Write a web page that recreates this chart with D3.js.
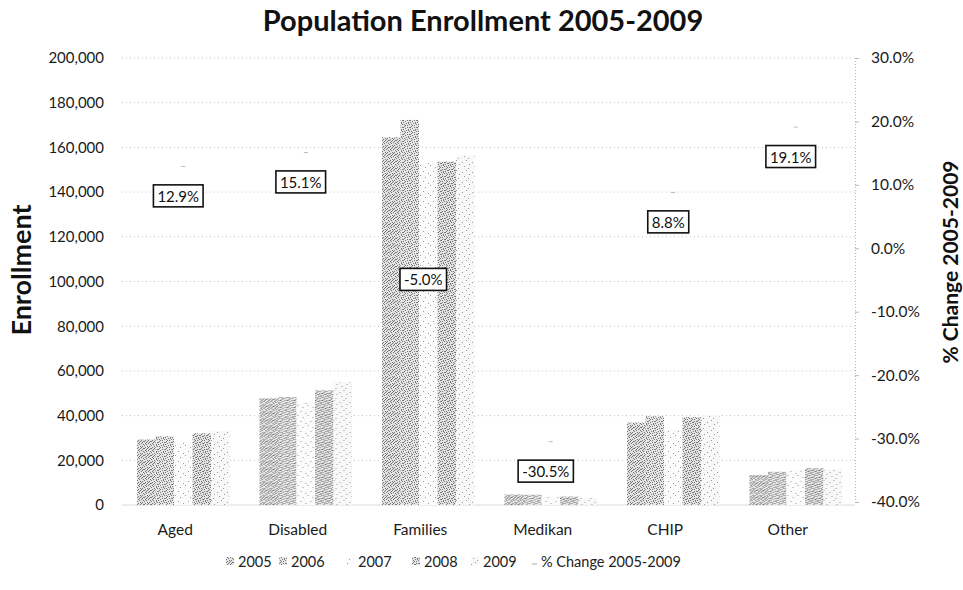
<!DOCTYPE html>
<html>
<head>
<meta charset="utf-8">
<script src="https://cdn.jsdelivr.net/npm/d3@7"></script>
<style>
  body { margin: 0; background: #fff; }
  svg { font-family: Lato, "Open Sans", sans-serif; }
</style>
</head>
<body>
<svg id="chart" width="963" height="590"></svg>
<script>
// data
const categories = ["Aged", "Disabled", "Families", "Medikan", "CHIP", "Other"];
const years = ["2005", "2006", "2007", "2008", "2009"];
const enroll2005 = [29300, 47700, 164600, 4800, 36900, 13400];
const enroll2006 = [30800, 48300, 172300, 4600, 39700, 14900];
const enroll2007 = [28000, 46000, 153000, 3900, 34000, 15300];
const enroll2008 = [32100, 51300, 153600, 3800, 39300, 16500];
const enroll2009 = [33100, 54900, 156400, 3340, 40200, 16000];
const pctChange = [12.9, 15.1, -5.0, -30.5, 8.8, 19.1];
const leftTicks = [0, 20000, 40000, 60000, 80000, 100000, 120000, 140000, 160000, 180000, 200000];
const rightTicks = [-40, -30, -20, -10, 0, 10, 20, 30];

const seriesValues = [enroll2005, enroll2006, enroll2007, enroll2008, enroll2009];

const svg = d3.select("#chart");
const plot = {left: 122, right: 857, top: 58, bottom: 505};
const fmt = d3.formatLocale({decimal: ".", thousands: ",", grouping: [3], currency: ["$", ""], minus: "-"});
const pct = d => fmt.format(".1f")(d) + "%";

// 0. stipple textures standing in for the scanned dither
const defs = svg.append("defs");
function dotPattern(id, size, bg, dots, dotColor) {
    const p = defs.append("pattern")
        .attr("id", id)
        .attr("patternUnits", "userSpaceOnUse")
        .attr("width", size).attr("height", size);
    p.append("rect").attr("width", size).attr("height", size).attr("fill", bg);
    dots.forEach(([dx, dy]) => {
        p.append("rect").attr("x", dx).attr("y", dy).attr("width", 1).attr("height", 1).attr("fill", dotColor);
    });
}
const denseDots = [[0,0],[3,0],[5,1],[1,2],[4,2],[6,3],[2,3],[0,4],[3,5],[5,5],[1,6],[4,6],[6,0],[2,1]];
const denseDotsB = [[1,0],[4,1],[6,1],[2,2],[0,3],[5,3],[3,4],[1,5],[6,5],[4,6],[2,6],[0,1],[5,4]];
const sparseDots = [[1,1],[6,3],[3,7],[8,5]];
const sparseDotsB = [[0,2],[4,0],[7,4],[2,6],[6,8]];
dotPattern("p2005", 7, "#e3e3e3", denseDots, "#767676");
dotPattern("p2006", 7, "#e6e6e6", denseDotsB, "#7a7a7a");
dotPattern("p2007", 10, "#fbfbfb", sparseDots, "#9c9c9c");
dotPattern("p2008", 7, "#e3e3e3", denseDotsB.concat([[3,2]]), "#787878");
dotPattern("p2009", 10, "#f8f8f8", sparseDotsB, "#999");
const fills = years.map(y => `url(#p${y})`);

// 1. scales
const x = d3.scaleBand()
    .domain(categories)
    .range([plot.left, plot.right])
    .paddingInner(0.245)
    .paddingOuter(0.1225);
const xs = d3.scaleBand().domain(years).range([0, x.bandwidth()]);
const y = d3.scaleLinear().domain([0, 200000]).range([plot.bottom, plot.top]);
const yr = d3.scaleLinear().domain([-40, 30]).range([plot.bottom - 3, plot.top]);

// 2. grid
svg.append("g")
    .selectAll("line")
    .data(leftTicks.slice(1))
    .join("line")
      .attr("x1", plot.left).attr("x2", plot.right - 2)
      .attr("y1", d => y(d)).attr("y2", d => y(d))
      .attr("stroke", "#c4c4c4")
      .attr("stroke-width", 1)
      .attr("stroke-dasharray", "1,3");

svg.append("line")
    .attr("x1", plot.left).attr("x2", plot.right - 2)
    .attr("y1", plot.bottom).attr("y2", plot.bottom)
    .attr("stroke", "#dadada");

// 3. axes
const yAxis = svg.append("g")
    .attr("transform", `translate(${plot.left - 18},0)`)
    .call(d3.axisLeft(y).tickValues(leftTicks).tickFormat(fmt.format(",")).tickSize(0).tickPadding(0));
yAxis.select(".domain").remove();
yAxis.selectAll("text").attr("font-size", 15).attr("fill", "#1a1a1a").attr("font-family", "Lato");

const yrAxis = svg.append("g")
    .attr("transform", `translate(${plot.right - 2},0)`)
    .call(d3.axisRight(yr).tickValues(rightTicks).tickFormat(pct).tickSize(4).tickPadding(12));
yrAxis.select(".domain").attr("stroke", "#bbb").attr("stroke-dasharray", "1,2");
yrAxis.selectAll("line").attr("stroke", "#bbb");
yrAxis.selectAll("text").attr("font-size", 15.5).attr("fill", "#1a1a1a").attr("font-family", "Lato");

const xAxis = svg.append("g")
    .attr("transform", `translate(-8,${plot.bottom})`)
    .call(d3.axisBottom(x).tickSize(0).tickPadding(19));
xAxis.select(".domain").remove();
xAxis.selectAll("text").attr("font-size", 15.5).attr("fill", "#1a1a1a").attr("font-family", "Lato");

// 4. bars
const groups = svg.append("g")
    .selectAll("g")
    .data(categories)
    .join("g")
      .attr("transform", d => `translate(${x(d)},0)`);

groups.selectAll("rect")
    .data((c, i) => years.map((yy, k) => ({year: yy, k: k, value: seriesValues[k][i]})))
    .join("rect")
      .attr("x", d => xs(d.year))
      .attr("width", xs.bandwidth())
      .attr("y", d => y(d.value))
      .attr("height", d => y(0) - y(d.value))
      .attr("fill", d => fills[d.k]);

// 5. % change markers and boxed labels
const pts = categories.map((c, i) => ({cat: c, v: pctChange[i]}));
svg.append("g")
    .selectAll("line")
    .data(pts)
    .join("line")
      .attr("x1", d => x(d.cat) + x.bandwidth() / 2 - 2)
      .attr("x2", d => x(d.cat) + x.bandwidth() / 2 + 2)
      .attr("y1", d => yr(d.v)).attr("y2", d => yr(d.v))
      .attr("stroke", "#bbb").attr("stroke-width", 1);

const labelDy = d => d.cat === "Families" ? 0 : 30;
const labels = svg.append("g")
    .selectAll("g")
    .data(pts)
    .join("g")
      .attr("transform", d => `translate(${x(d.cat) + x.bandwidth() / 2 - 5},${yr(d.v) + labelDy(d)})`);
labels.append("text")
    .attr("text-anchor", "middle")
    .attr("dy", "0.36em")
    .attr("font-size", 15)
    .attr("fill", "#111")
    .text(d => pct(d.v));
labels.each(function() {
    const g = d3.select(this);
    const b = g.select("text").node().getBBox();
    g.insert("rect", "text")
        .attr("x", b.x - 4).attr("y", b.y - 2)
        .attr("width", b.width + 8).attr("height", b.height + 4)
        .attr("fill", "#fff")
        .attr("stroke", "#111")
        .attr("stroke-width", 1.6);
});

// 6. titles
svg.append("text")
    .attr("x", 483).attr("y", 31)
    .attr("text-anchor", "middle")
    .attr("font-size", 29).attr("font-weight", "bold")
    .attr("fill", "#111")
    .text("Population Enrollment 2005-2009");

svg.append("text")
    .attr("transform", "translate(31,270) rotate(-90)")
    .attr("text-anchor", "middle")
    .attr("font-size", 27).attr("font-weight", "bold")
    .attr("fill", "#111")
    .text("Enrollment");

svg.append("text")
    .attr("transform", "translate(958,262) rotate(-90)")
    .attr("text-anchor", "middle")
    .attr("font-size", 21).attr("font-weight", "bold")
    .attr("fill", "#111")
    .text("% Change 2005-2009");

// 7. legend
const legendItems = years.map((yy, k) => ({label: yy, fill: fills[k], type: "bar"}))
    .concat([{label: "% Change 2005-2009", type: "line"}]);
const legendX = [226, 279, 346, 412, 471, 530];
const legend = svg.append("g")
    .selectAll("g")
    .data(legendItems)
    .join("g")
      .attr("transform", (d, i) => `translate(${legendX[i]},562)`);
legend.filter(d => d.type === "bar").append("rect")
    .attr("x", 0).attr("y", -5).attr("width", 8).attr("height", 8)
    .attr("fill", d => d.fill);
legend.filter(d => d.type === "line").append("line")
    .attr("x1", 2).attr("x2", 7).attr("y1", 2).attr("y2", 2)
    .attr("stroke", "#aaa").attr("stroke-width", 1);
legend.append("text")
    .attr("x", d => d.type === "line" ? 11 : 12)
    .attr("y", 0)
    .attr("dy", "0.35em")
    .attr("font-size", 14.5)
    .attr("fill", "#222")
    .text(d => d.label);
</script>
</body>
</html>
